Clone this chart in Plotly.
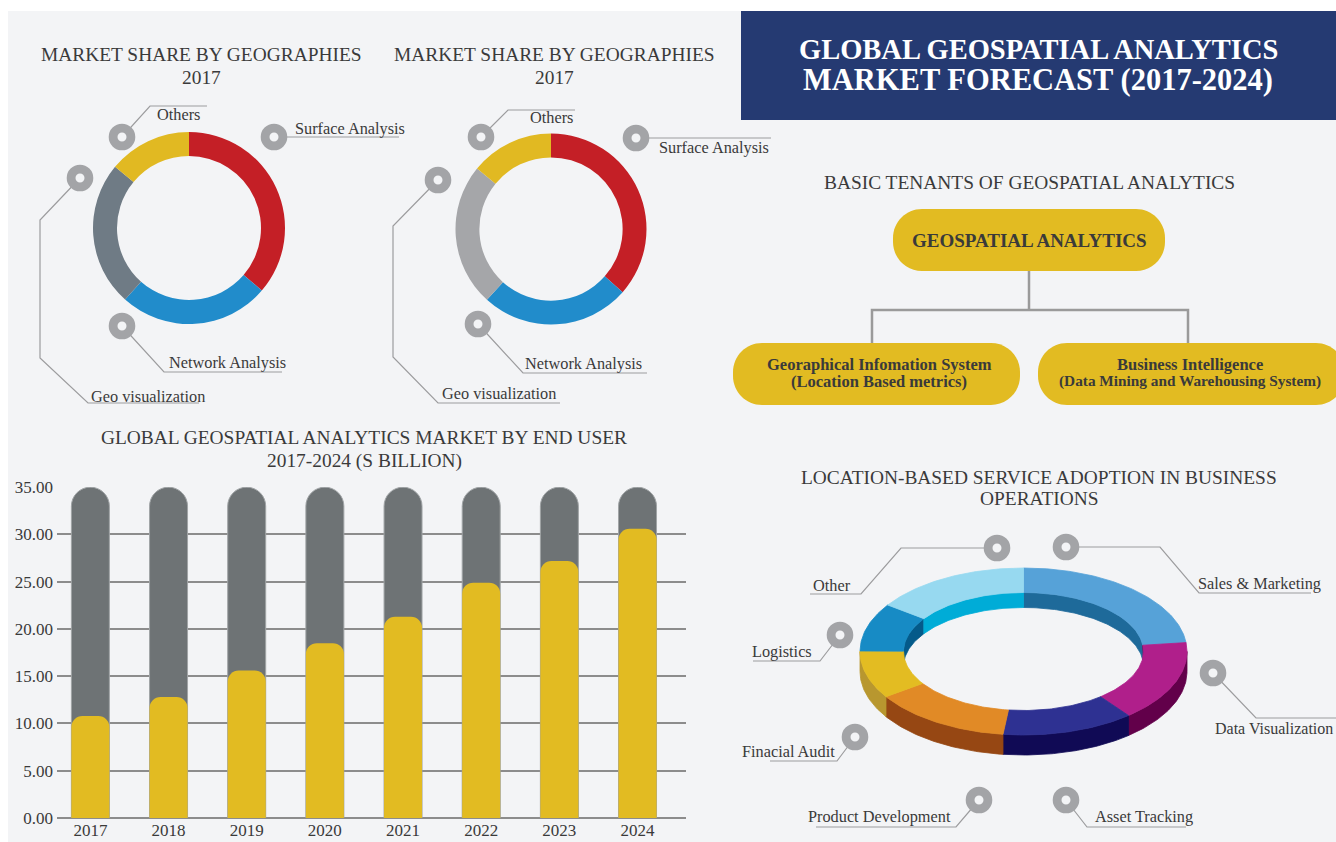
import math
import plotly.graph_objects as go

# ---------------- data ----------------
geo_labels = ["Surface Analysis", "Network Analysis", "Geo visualization", "Others"]
geo_share_left = [36.3, 25.3, 24.4, 14.0]
geo_share_right = [36.5, 25.2, 24.2, 14.1]
geo_colors_left = ["#c41f26", "#218ccb", "#6f7b85", "#e1b922"]
geo_colors_right = ["#c41f26", "#218ccb", "#a5a6a9", "#e1b922"]

years = ["2017", "2018", "2019", "2020", "2021", "2022", "2023", "2024"]
end_user_values = [10.8, 12.8, 15.6, 18.5, 21.3, 24.9, 27.2, 30.6]
scale_values = [35.0, 35.0, 35.0, 35.0, 35.0, 35.0, 35.0, 35.0]
y_ticks = [0, 5, 10, 15, 20, 25, 30, 35]

lbs_labels = ["Sales & Marketing", "Data Visualization", "Asset Tracking",
              "Product Development", "Finacial Audit", "Logistics", "Other"]
lbs_values = [23.3, 15.6, 13.1, 13.9, 9.2, 9.3, 15.6]
lbs_top_colors = ["#56a2d8", "#b01f8b", "#2e3192", "#e18a26", "#e3bc22", "#178bc5", "#97d9f0"]
lbs_wall_colors = ["#1e6a9a", "#62004a", "#100a55", "#964713", "#b8972f", "#045a8a", "#00acd7"]

# ---------------- page geometry helpers ----------------
W, H = 1336, 842


def px(X):
    return X / W


def py(Y):
    return 1 - Y / H


FONT = "Liberation Serif"
TXT = "#3a3a3a"
BG = "#f3f4f6"
LINE = "#9c9c9e"
RING = "#a3a4a7"
GOLD = "#e2bb22"
LBL = 16.3
TITLE = 19.4

fig = go.Figure()

# ---------------- donuts ----------------
for vals, cols, (x0, x1, y0, y1) in [
    (geo_share_left, geo_colors_left, (93, 285, 132, 324)),
    (geo_share_right, geo_colors_right, (455.5, 646.5, 133.5, 324.5)),
]:
    fig.add_trace(go.Pie(
        values=vals, labels=geo_labels, hole=0.75, sort=False,
        direction="clockwise", rotation=0,
        marker=dict(colors=cols, line=dict(width=0)),
        textinfo="none", hoverinfo="label+percent", showlegend=False,
        domain=dict(x=[px(x0), px(x1)], y=[py(y1), py(y0)]),
    ))

# ---------------- bars ----------------
fig.add_trace(go.Bar(
    x=years, y=scale_values, width=0.486,
    marker=dict(color="#6e7375", cornerradius="50%", line=dict(color="#a0a4a6", width=1)),
    hoverinfo="skip", showlegend=False, xaxis="x", yaxis="y"))
fig.add_trace(go.Bar(
    x=years, y=end_user_values, width=0.486,
    marker=dict(color=GOLD, cornerradius=11, line=dict(width=0)),
    showlegend=False, xaxis="x3", yaxis="y"))

# ---------------- pseudo-3D ring ----------------
cx, cy = 1023.5, 651.5
rxo, ryo = 163.5, 83.5
rxi, ryi = 120.0, 59.0
d_out, d_in = 20, 15


def ell(rx, ry, t, dy=0.0):
    r = math.radians(t)
    return cx + rx * math.sin(r), cy - ry * math.cos(r) + dy


def arc(rx, ry, t1, t2, dy=0.0):
    n = max(2, int(abs(t2 - t1) / 1.0) + 2)
    return [ell(rx, ry, t1 + (t2 - t1) * i / (n - 1), dy) for i in range(n)]


total = sum(lbs_values)
bounds = [0.0]
for v in lbs_values:
    bounds.append(bounds[-1] + v / total * 360.0)


def poly(pts, color, name):
    xs = [p[0] for p in pts] + [pts[0][0]]
    ys = [p[1] for p in pts] + [pts[0][1]]
    fig.add_trace(go.Scatter(
        x=xs, y=ys, fill="toself", fillcolor=color, mode="lines",
        line=dict(color=color, width=0.8), hoverinfo="text", text=name,
        showlegend=False, xaxis="x2", yaxis="y2"))


def clip(t1, t2, a, b):
    lo, hi = max(t1, a), min(t2, b)
    return (lo, hi) if hi > lo else None


# inner walls (back half)
for i, name in enumerate(lbs_labels):
    t1, t2 = bounds[i], bounds[i + 1]
    for a, b in [(0, 90), (270, 360)]:
        c = clip(t1, t2, a, b)
        if c:
            pts = arc(rxi, ryi, c[0], c[1]) + arc(rxi, ryi, c[1], c[0], d_in)
            poly(pts, lbs_wall_colors[i], name)
# outer walls (front half)
for i, name in enumerate(lbs_labels):
    t1, t2 = bounds[i], bounds[i + 1]
    c = clip(t1, t2, 90, 270)
    if c:
        pts = arc(rxo, ryo, c[0], c[1]) + arc(rxo, ryo, c[1], c[0], d_out)
        poly(pts, lbs_wall_colors[i], name)
# top surfaces
for i, name in enumerate(lbs_labels):
    t1, t2 = bounds[i], bounds[i + 1]
    pts = arc(rxo, ryo, t1, t2) + arc(rxi, ryi, t2, t1)
    poly(pts, lbs_top_colors[i], name)

# ---------------- shapes ----------------
shapes = []
shapes.append(dict(type="rect", xref="paper", yref="paper", x0=px(8), x1=1, y0=0, y1=py(11),
                   fillcolor=BG, line=dict(width=0), layer="below"))
shapes.append(dict(type="rect", xref="paper", yref="paper", x0=px(741), x1=1,
                   y0=py(120), y1=py(11), fillcolor="#253a72", line=dict(width=0), layer="below"))


def pline(points, color=LINE, width=1.2):
    d = "M " + " L ".join(f"{px(x):.5f},{py(y):.5f}" for x, y in points)
    shapes.append(dict(type="path", xref="paper", yref="paper", path=d,
                       line=dict(color=color, width=width), layer="below"))


def ring(x, y):
    r = 8.9
    shapes.append(dict(type="circle", xref="paper", yref="paper",
                       x0=px(x - r), x1=px(x + r), y0=py(y + r), y1=py(y - r),
                       fillcolor=BG, line=dict(color=RING, width=8.8), layer="below"))


def pill(x0, x1, y0, y1, r):
    k = 0.5523 * r
    P = lambda x, y: f"{px(x):.5f},{py(y):.5f}"
    d = (f"M {P(x0 + r, y0)} L {P(x1 - r, y0)} "
         f"C {P(x1 - r + k, y0)} {P(x1, y0 + r - k)} {P(x1, y0 + r)} "
         f"L {P(x1, y1 - r)} "
         f"C {P(x1, y1 - r + k)} {P(x1 - r + k, y1)} {P(x1 - r, y1)} "
         f"L {P(x0 + r, y1)} "
         f"C {P(x0 + r - k, y1)} {P(x0, y1 - r + k)} {P(x0, y1 - r)} "
         f"L {P(x0, y0 + r)} "
         f"C {P(x0, y0 + r - k)} {P(x0 + r - k, y0)} {P(x0 + r, y0)} Z")
    shapes.append(dict(type="path", xref="paper", yref="paper", path=d,
                       fillcolor=GOLD, line=dict(width=0), layer="below"))


annotations = []


def text(x, y, s, size=LBL, color=TXT, bold=False, anchor="center"):
    annotations.append(dict(
        x=px(x), y=py(y), xref="paper", yref="paper", text=f"<b>{s}</b>" if bold else s,
        showarrow=False, xanchor=anchor, yanchor="middle",
        font=dict(family=FONT, size=size, color=color)))


callouts = [
    ((122, 137), [(150, 106), (207, 106)], (179, 114), "Others"),
    ((274, 137), [(399, 137)], (350, 129), "Surface Analysis"),
    ((80, 178), [(40, 220), (40, 358), (88, 403), (199, 403)], (148, 396), "Geo visualization"),
    ((122, 326), [(164, 372), (282, 372)], (227, 362), "Network Analysis"),
    ((481, 137), [(508, 110), (575, 110)], (551, 117), "Others"),
    ((636, 138), [(771, 138)], (714, 147), "Surface Analysis"),
    ((438, 180), [(393, 226), (393, 357), (438, 403), (560, 403)], (499, 393), "Geo visualization"),
    ((478, 324), [(523, 373), (647, 373)], (583, 363), "Network Analysis"),
    ((997, 548), [(901, 548), (861, 594), (810, 594)], (832, 585), "Other"),
    ((1066, 547), [(1160, 547), (1199, 593), (1311, 593)], (1259, 583), "Sales & Marketing"),
    ((840, 635), [(820, 661), (753, 661)], (782, 651), "Logistics"),
    ((855, 737), [(837, 761), (770, 761)], (788, 751), "Finacial Audit"),
    ((979, 800), [(956, 827), (816, 827)], (879, 816), "Product Development"),
    ((1066, 800), [(1087, 827), (1186, 827)], (1144, 816), "Asset Tracking"),
]
for (rx_, ry_), pts, (tx, ty), lab in callouts:
    pline([(rx_, ry_)] + pts)
    text(tx, ty, lab)
pline([(1213, 673), (1256, 718), (1345, 718)])
text(1335, 728, "Data Visualization", size=16, anchor="right")

for (rx_, ry_), pts, _, _ in callouts:
    ring(rx_, ry_)
ring(1213, 673)

# tenants diagram
pline([(1029, 271), (1029, 310)], color="#9a9a9a", width=2.5)
pline([(872, 343), (872, 310), (1188, 310), (1188, 343)], color="#9a9a9a", width=2.5)
pill(893, 1165, 209, 271, 29)
pill(733, 1020, 343, 405, 29)
pill(1038, 1345, 343, 405, 29)

# ---------------- texts ----------------
text(1038, 50, "GLOBAL GEOSPATIAL ANALYTICS", size=28.5, color="white", bold=True)
text(1038, 80, "MARKET FORECAST (2017-2024)", size=30.5, color="white", bold=True)

text(201, 55, "MARKET SHARE BY GEOGRAPHIES", size=TITLE)
text(201, 78, "2017", size=TITLE)
text(554, 55, "MARKET SHARE BY GEOGRAPHIES", size=TITLE)
text(554, 78, "2017", size=TITLE)
text(1029, 182, "BASIC TENANTS OF GEOSPATIAL ANALYTICS", size=TITLE)
text(364, 438, "GLOBAL GEOSPATIAL ANALYTICS MARKET BY END USER", size=TITLE)
text(364, 461, "2017-2024 (S BILLION)", size=TITLE)
text(1039, 477, "LOCATION-BASED SERVICE ADOPTION IN BUSINESS", size=TITLE)
text(1039, 498, "OPERATIONS", size=TITLE)

text(1029, 241, "GEOSPATIAL ANALYTICS", size=19, bold=True)
text(879, 364, "Georaphical Infomation System", size=16.5, bold=True)
text(879, 382, "(Location Based metrics)", size=16.5, bold=True)
text(1190, 364, "Business Intelligence", size=16.5, bold=True)
text(1190, 381, "(Data Mining and Warehousing System)", size=15.3, bold=True)

fig.update_layout(
    template="none",
    width=W, height=H, margin=dict(l=0, r=0, t=0, b=0, pad=0, autoexpand=False),
    paper_bgcolor="white", plot_bgcolor="rgba(0,0,0,0)",
    barmode="overlay", showlegend=False,
    font=dict(family=FONT, color=TXT),
    xaxis=dict(domain=[px(57), px(686)], type="category", range=[-0.427, 7.62],
               showgrid=False, zeroline=False, showline=False, ticks="", automargin=False,
               tickfont=dict(family=FONT, size=17, color=TXT), fixedrange=True),
    xaxis3=dict(domain=[px(57), px(686)], type="category", range=[-0.427, 7.62],
                overlaying="x", anchor="y", visible=False, fixedrange=True),
    yaxis=dict(domain=[py(818), py(487)], range=[0, 35.02], tickvals=y_ticks,
               tickformat=".2f", showgrid=True, gridcolor="#8c8c8c", gridwidth=1.5,
               zeroline=True, zerolinecolor="#8c8c8c", zerolinewidth=1.5,
               showline=False, ticks="", ticklabelstandoff=3, automargin=False,
               tickfont=dict(family=FONT, size=17, color=TXT), fixedrange=True),
    xaxis2=dict(domain=[px(840), px(1210)], range=[840, 1210], visible=False,
                anchor="y2", fixedrange=True),
    yaxis2=dict(domain=[py(780), py(550)], range=[780, 550], visible=False,
                anchor="x2", fixedrange=True),
    shapes=shapes, annotations=annotations,
)

fig.write_html("out.html", config={"displayModeBar": False},
               post_script="document.body.style.margin='0px';document.body.style.overflow='hidden';")
